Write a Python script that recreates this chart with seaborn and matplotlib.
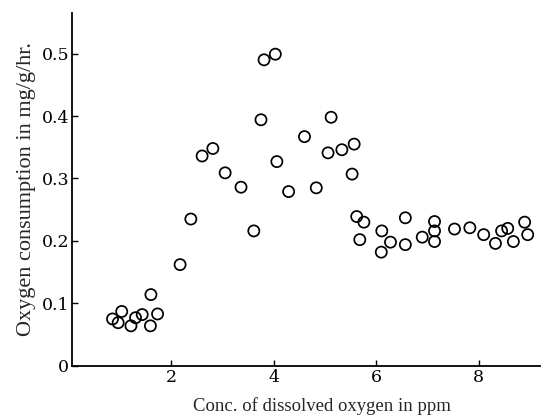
import pandas as pd
import seaborn as sns
import matplotlib.pyplot as plt

# dissolved oxygen (ppm) vs oxygen consumption (mg/g/hr)
conc = [0.85, 0.96, 1.03, 1.21, 1.30, 1.43, 1.59, 1.60, 1.73,
        2.17, 2.38, 2.60, 2.81, 3.05, 3.36, 3.61, 3.75, 3.81, 4.03,
        4.06, 4.29, 4.60, 4.83, 5.06, 5.12, 5.33, 5.53, 5.57, 5.62,
        5.68, 5.76, 6.10, 6.11, 6.28, 6.57, 6.57, 6.90, 7.14, 7.14,
        7.14, 7.53, 7.83, 8.10, 8.33, 8.45, 8.57, 8.68, 8.90, 8.96]
consumption = [0.075, 0.069, 0.087, 0.064, 0.077, 0.082, 0.064, 0.114, 0.083,
               0.162, 0.235, 0.336, 0.348, 0.309, 0.286, 0.216, 0.394, 0.490, 0.499,
               0.327, 0.279, 0.367, 0.285, 0.341, 0.398, 0.346, 0.307, 0.355, 0.239,
               0.202, 0.230, 0.182, 0.216, 0.198, 0.237, 0.194, 0.206, 0.231, 0.216,
               0.199, 0.219, 0.221, 0.210, 0.196, 0.216, 0.220, 0.199, 0.230, 0.210]
yticks = [0, 0.1, 0.2, 0.3, 0.4, 0.5]
ytick_labels = ['0', '0.1', '0.2', '0.3', '0.4', '0.5']

df = pd.DataFrame({'conc': conc, 'o2': consumption})

sns.set_style('ticks')
plt.rcParams['font.family'] = ['Liberation Serif', 'DejaVu Serif']

fig = plt.figure(figsize=(5.46, 4.19), dpi=100)
ax = fig.add_axes([0.132, 0.127, 0.857, 0.842])

sns.scatterplot(x='conc', y='o2', data=df, ax=ax, marker='o', s=64,
                facecolors='none', edgecolor='black', linewidth=1.25)

ax.set_xlim(0.06, 9.2)
ax.set_ylim(0, 0.565)
ax.set_xticks([2, 4, 6, 8])
ax.set_yticks(yticks)
ax.set_yticklabels(ytick_labels)
ax.tick_params(direction='in', length=4, width=1, pad=2, colors='black')
for lab in ax.get_xticklabels() + ax.get_yticklabels():
    lab.set_fontfamily('DejaVu Serif')
    lab.set_fontsize(12.5)
sns.despine(ax=ax)
for side in ['left', 'bottom']:
    ax.spines[side].set_linewidth(1.3)
    ax.spines[side].set_color('black')

ax.set_xlabel('Conc. of dissolved oxygen in ppm', fontsize=13.5)
ax.xaxis.set_label_coords(0.534, -0.088)
ax.set_ylabel('Oxygen consumption in mg/g/hr.', fontsize=16, labelpad=4)

fig.savefig('out.png', dpi=100)
